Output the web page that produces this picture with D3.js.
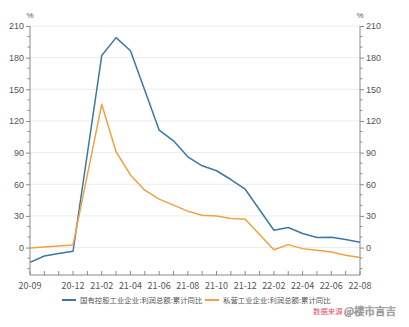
<!DOCTYPE html>
<html><head><meta charset="utf-8">
<script src="https://cdn.jsdelivr.net/npm/d3@7"></script>
<style>
html,body{margin:0;padding:0;background:#fff;}
svg{display:block;font-family:"Noto Sans CJK SC","Noto Sans",sans-serif;}
</style></head>
<body><svg id="c" width="409" height="327"></svg>
<script>
const months = ["20-09","20-10","20-11","20-12","21-01","21-02","21-03","21-04","21-05","21-06","21-07","21-08","21-09","21-10","21-11","21-12","22-01","22-02","22-03","22-04","22-05","22-06","22-07","22-08"];
const xTickLabels = ["20-09","20-12","21-02","21-04","21-06","21-08","21-10","21-12","22-02","22-04","22-06","22-08"];
const dataMonths = ["20-09","20-10","20-11","20-12","21-02","21-03","21-04","21-05","21-06","21-07","21-08","21-09","21-10","21-11","21-12","22-02","22-03","22-04","22-05","22-06","22-07","22-08"];
const stateOwned = [-14,-8,-5.7,-3.5,182,199,186.5,149,111.4,101.2,86,77.5,72.8,64.5,55.3,16.4,19,13.3,9.5,9.8,7.6,5];
const privateEnt = [-0.5,0.5,1.5,2.5,135.8,90.8,68.8,54.4,45.9,40.2,34.5,30.7,30,27.5,26.9,-2,2.8,-1,-2.6,-4.2,-7.3,-9.5];
const yMajorTicks = [0,30,60,90,120,150,180,210];
const yMinorTicks = [-20,-10,10,20,40,50,70,80,100,110,130,140,160,170,190,200];
const seriesNames = ["国有控股工业企业:利润总额:累计同比","私营工业企业:利润总额:累计同比"];
const colors = ["#3b78a6","#f2a140"];

const svg = d3.select("#c");
const L = 30, R = 360, T = 26, B = 275;
const x = d3.scalePoint().domain(months).range([L, R]).padding(0);
const y = d3.scaleLinear().domain([-26, 210]).range([B, T]);
const axisCol = "#8a8a8a", textCol = "#555";

// grid
svg.append("g").selectAll("line").data(yMajorTicks).join("line")
  .attr("x1", L).attr("x2", R).attr("y1", d => y(d)).attr("y2", d => y(d))
  .attr("stroke", "#ececec").attr("stroke-width", 1);

// y axes
function yAxis(side) {
  const g = svg.append("g").attr("transform", `translate(${side==="left"?L:R},0)`);
  const ax = (side==="left"?d3.axisLeft(y):d3.axisRight(y)).tickValues(yMajorTicks).tickSize(4).tickPadding(2);
  g.call(ax);
  g.selectAll(".tick text").attr("fill", textCol).style("font-size","9px");
  g.selectAll(".tick line").attr("stroke", axisCol);
  g.select(".domain").attr("stroke", axisCol).attr("d", `M0,${T}V${B}`);
  const dir = side==="left" ? -1 : 1;
  g.append("g").selectAll("line").data(yMinorTicks).join("line")
    .attr("x1", 0).attr("x2", dir*2.5).attr("y1", d=>y(d)).attr("y2", d=>y(d))
    .attr("stroke", axisCol);
  g.append("text").attr("x", 0).attr("y", T-8).attr("text-anchor","middle")
    .attr("fill", textCol).style("font-size","8px").text("%");
}
yAxis("left"); yAxis("right");

// x axis
const gx = svg.append("g").attr("transform", `translate(0,${B})`);
gx.append("line").attr("x1", L).attr("x2", R).attr("stroke", axisCol);
gx.append("g").selectAll("line").data(months).join("line")
  .attr("x1", d=>x(d)).attr("x2", d=>x(d)).attr("y1", 0).attr("y2", -4).attr("stroke", axisCol);
gx.append("g").selectAll("text").data(xTickLabels).join("text")
  .attr("x", d=>x(d)).attr("y", 13.5).attr("text-anchor","middle")
  .attr("fill", textCol).style("font-size","9px").text(d=>d);

// lines
const line = d3.line().x(d=>x(d[0])).y(d=>y(d[1]));
[stateOwned, privateEnt].forEach((vals, i) => {
  svg.append("path").datum(dataMonths.map((m,j)=>[m, vals[j]]))
    .attr("d", line).attr("fill","none").attr("stroke", colors[i]).attr("stroke-width", 1.5)
    .attr("stroke-linejoin","round");
});

// legend
const lg = svg.append("g").attr("transform","translate(0,300)");
const legX = [62, 205];
seriesNames.forEach((n,i)=>{
  lg.append("line").attr("x1", legX[i]).attr("x2", legX[i]+14).attr("y1",0).attr("y2",0)
    .attr("stroke", colors[i]).attr("stroke-width",2);
  lg.append("text").attr("x", legX[i]+18).attr("y", 2.6).attr("fill", textCol)
    .style("font-size","7.4px").text(n);
});

// watermark
svg.append("text").attr("x", 313).attr("y", 313.5).attr("fill","#e0506a")
  .style("font-size","7.4px").text("数据来源");
svg.append("text").attr("x", 344).attr("y", 314.5).attr("fill","#fff")
  .attr("stroke","#9a9a9a").attr("stroke-width",0.7).style("font-size","10.5px").text("@楼市言吉");
</script></body></html>
